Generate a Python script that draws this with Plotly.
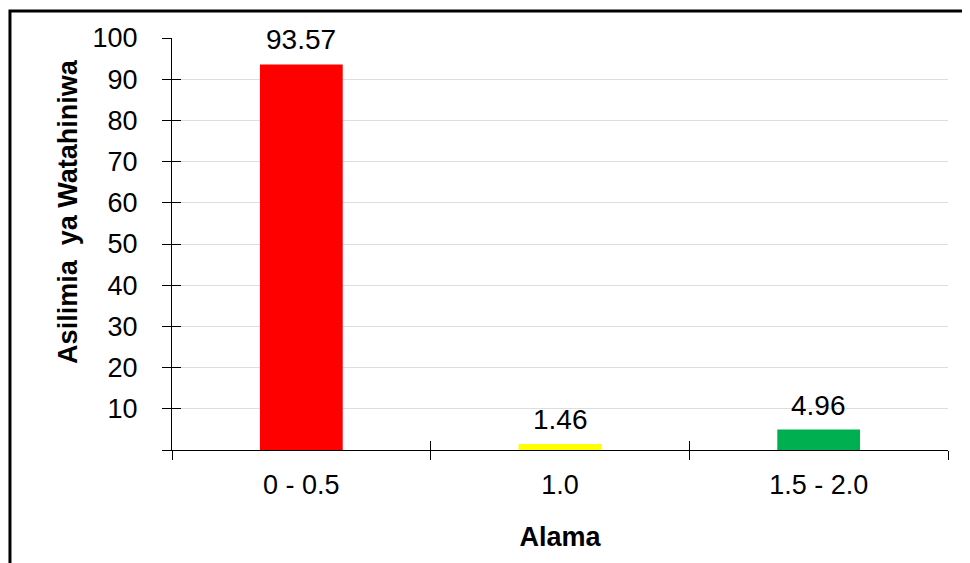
import plotly.graph_objects as go

# Data
categories = ["0 - 0.5", "1.0", "1.5 - 2.0"]
values = [93.57, 1.46, 4.96]
bar_colors = ["#FF0000", "#FFFF00", "#00B050"]
y_ticks = [0, 10, 20, 30, 40, 50, 60, 70, 80, 90, 100]
y_ticktext = [""] + [str(v) for v in y_ticks[1:]]

FONT = "Liberation Sans, Arial, sans-serif"

fig = go.Figure()
fig.add_trace(go.Bar(
    x=categories,
    y=values,
    marker=dict(color=bar_colors, line=dict(width=0)),
    width=0.32,
    hoverinfo="x+y",
))
# invisible trace on overlay axes, for the inner half of the crossing ticks
fig.add_trace(go.Scatter(x=categories, y=values, xaxis="x2", yaxis="y2",
                         mode="markers", marker=dict(opacity=0), hoverinfo="skip"))

# value labels above the bars
annotations = [
    dict(x=c, y=v, text=f"{v:.2f}", showarrow=False, yanchor="bottom", yshift=7,
         font=dict(size=28, color="black", family=FONT))
    for c, v in zip(categories, values)
]
# y axis title
annotations.append(dict(
    text="<b>Asilimia\u00a0 ya Watahiniwa</b>", xref="paper", yref="paper",
    x=-0.134, y=0.578, xanchor="center", yanchor="middle", textangle=-90,
    showarrow=False, font=dict(size=27, color="black", family=FONT),
))

fig.update_layout(
    width=970, height=563,
    # the page body adds an 8px offset, so margins are shifted by -8
    margin=dict(l=164, r=30, t=30, b=121),
    plot_bgcolor="white", paper_bgcolor="white",
    showlegend=False,
    font=dict(family=FONT, size=27, color="black"),
    xaxis=dict(
        type="category", tickson="boundaries",
        ticks="outside", ticklen=9, tickwidth=1.3, tickcolor="black",
        showline=True, linecolor="black", linewidth=1.3,
        showgrid=False, ticklabelstandoff=10,
        title=dict(text="<b>Alama</b>", font=dict(size=27), standoff=28),
        range=[-0.5, 2.5],
    ),
    yaxis=dict(
        range=[0, 100], tickvals=y_ticks, ticktext=y_ticktext,
        ticks="outside", ticklen=9, tickwidth=1.3, tickcolor="black",
        showline=True, linecolor="black", linewidth=1.3,
        showgrid=True, gridcolor="#DDDDDD", gridwidth=1.3,
        zeroline=False, ticklabelstandoff=19,
    ),
    xaxis2=dict(
        type="category", overlaying="x", tickson="boundaries", range=[-0.5, 2.5],
        ticks="inside", ticklen=9, tickwidth=1.3, tickcolor="black",
        showticklabels=False, showgrid=False, showline=False, anchor="y2", side="bottom",
    ),
    yaxis2=dict(
        overlaying="y", range=[0, 100], tickvals=y_ticks,
        ticks="inside", ticklen=9, tickwidth=1.3, tickcolor="black",
        showticklabels=False, showgrid=False, showline=False, zeroline=False,
        anchor="x2", side="left",
    ),
    annotations=annotations,
    shapes=[dict(
        type="rect", xref="paper", yref="paper",
        x0=-0.2088, x1=1.0219, y0=-0.3, y1=1.0655,
        line=dict(color="black", width=3), fillcolor="rgba(0,0,0,0)", layer="below",
    )],
)

fig.write_html("out.html")
